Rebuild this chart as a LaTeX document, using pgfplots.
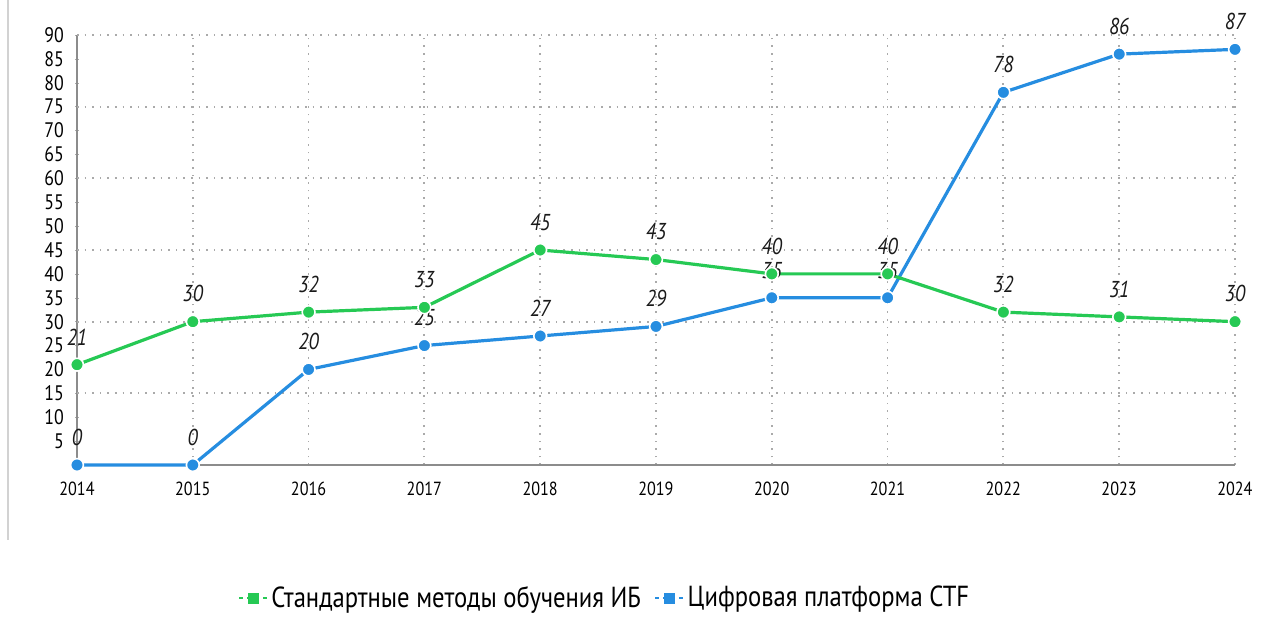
\documentclass[border=0pt]{standalone}
\usepackage{pgfplots}
\pgfplotsset{compat=1.18}
\usepackage{fontspec}
\setmainfont[FakeStretch=0.85]{PT Sans}
\definecolor{cgreen}{RGB}{38,201,84}
\definecolor{cblue}{RGB}{38,141,224}
\definecolor{gridc}{RGB}{170,170,170}
\definecolor{axc}{RGB}{140,140,140}
\begin{document}
\begin{tikzpicture}
\useasboundingbox (-38.5pt,-78pt) rectangle (601.5pt,232.5pt);
\draw[gray!35, line width=0.8pt] (-34.5pt,232.5pt) -- (-34.5pt,-37.5pt);
\begin{axis}[
  scale only axis,
  width=579pt, height=215pt,
  xmin=2014, xmax=2024, ymin=0, ymax=90,
  clip=false,
  axis x line=bottom, axis y line=left,
  axis line style={axc, line width=0.8pt, -},
  xtick={2014,...,2024},
  xticklabel style={/pgf/number format/1000 sep={}, font=\fontsize{9.5}{11}\selectfont, text=black, yshift=-4pt},
  ytick={5,10,...,90},
  yticklabel style={font=\fontsize{10.5}{12}\selectfont, text=black, xshift=-2pt},
  /pgf/number format/assume math mode=true,
  extra y ticks={15,30,45,60,75,90},
  extra y tick labels={},
  extra y tick style={grid=major, major tick length=0pt},
  xmajorgrids,
  grid style={gridc, line width=0.9pt, dash pattern=on 0.8pt off 3pt},
  major tick length=2pt,
  tick style={gridc},
  xtick style={draw=none},
  legend style={draw=none, at={(264pt,-66.5pt)}, anchor=center, legend columns=2,
    font=\fontsize{14.5}{16}\selectfont, text=black,
    /tikz/every even column/.append style={column sep=5pt},
    nodes={inner xsep=1.5pt}},
  nodes near coords,
  every node near coord/.append style={font=\fontsize{11.5}{13}\selectfont\itshape, text=black!90, yshift=6pt},
  point meta=explicit,
]
\addlegendimage{legend image code/.code={
  \draw[cgreen, line width=1.3pt, dash pattern=on 2pt off 2pt] (0pt,0pt)--(14pt,0pt);
  \fill[cgreen] (4.5pt,-2.5pt) rectangle (9.5pt,2.5pt);}}
\addlegendentry{Стандартные методы обучения ИБ}
\addlegendimage{legend image code/.code={
  \draw[cblue, line width=1.3pt, dash pattern=on 2pt off 2pt] (0pt,0pt)--(14pt,0pt);
  \fill[cblue] (4.5pt,-2.5pt) rectangle (9.5pt,2.5pt);}}
\addlegendentry{Цифровая платформа CTF}
\addplot[cblue, line width=1.6pt, mark=*, mark size=3.2pt, mark options={draw=white, line width=0.8pt, fill=cblue}, forget plot]
  table[meta=y] {
x y
2014 0
2015 0
2016 20
2017 25
2018 27
2019 29
2020 35
2021 35
2022 78
2023 86
2024 87
};
\addplot[cgreen, line width=1.6pt, mark=*, mark size=3.2pt, mark options={draw=white, line width=0.8pt, fill=cgreen}, forget plot]
  table[meta=y] {
x y
2014 21
2015 30
2016 32
2017 33
2018 45
2019 43
2020 40
2021 40
2022 32
2023 31
2024 30
};
\end{axis}
\end{tikzpicture}
\end{document}
